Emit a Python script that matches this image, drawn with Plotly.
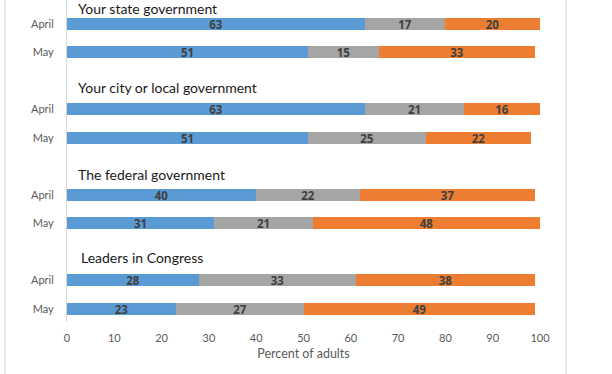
import plotly.graph_objects as go

groups = ["Your state government", "Your city or local government",
          "The federal government", "Leaders in Congress"]
months = ["April", "May"]
blue_vals = [63, 51, 63, 51, 40, 31, 28, 23]
gray_vals = [17, 15, 21, 25, 22, 21, 33, 27]
orange_vals = [20, 33, 16, 22, 37, 48, 38, 49]
x_ticks = [0, 10, 20, 30, 40, 50, 60, 70, 80, 90, 100]

# y positions: April at 3*i, May at 3*i+1
ypos = []
ylabels = []
for i in range(len(groups)):
    for j, m in enumerate(months):
        ypos.append(3 * i + j)
        ylabels.append(m)

FONT = "Lato"
LABEL_FONT = "Open Sans"
fig = go.Figure()
for vals, col in [(blue_vals, "#5B9BD5"), (gray_vals, "#A5A5A5"), (orange_vals, "#ED7D31")]:
    fig.add_trace(go.Bar(
        x=vals, y=ypos, orientation="h", width=0.42,
        marker=dict(color=col, line=dict(width=0)),
        text=[str(v) for v in vals], textposition="inside", textangle=0,
        insidetextanchor="middle", constraintext="none",
        textfont=dict(family=LABEL_FONT, size=11.5, color="#404040", weight="bold"),
        hoverinfo="skip", showlegend=False, cliponaxis=False,
    ))

title_offsets = [0.54, 0.78, 0.72, 0.82]
for i, g in enumerate(groups):
    fig.add_annotation(x=2.0 if i < 3 else 2.6, y=3 * i - title_offsets[i], xref="x", yref="y",
                       text=g, showarrow=False, xanchor="left", yanchor="middle",
                       font=dict(family=FONT, size=14, color="#1a1a1a"))

# outer frame lines
for xp in [-0.131, 1.055]:
    fig.add_shape(type="line", xref="paper", yref="paper", x0=xp, x1=xp, y0=-0.3, y1=1.2,
                  line=dict(color="#D9D9D9", width=1.2))

fig.update_layout(
    width=612, height=374,
    margin=dict(l=67, r=72, t=0, b=52),
    barmode="stack", bargap=0,
    plot_bgcolor="white", paper_bgcolor="white",
    font=dict(family=FONT, color="#595959"),
    xaxis=dict(range=[0, 100], tickvals=x_ticks, showgrid=False, zeroline=False,
               showline=False, ticks="", automargin=False, ticklabelstandoff=8,
               tickfont=dict(size=11, color="#595959"),
               title=dict(text="Percent of adults", font=dict(size=12.5, color="#595959"), standoff=6)),
    yaxis=dict(range=[10.46, -0.84], tickvals=ypos, ticktext=ylabels, showgrid=False,
               zeroline=False, showline=True, linecolor="#D9D9D9", linewidth=1,
               ticks="", ticklen=0, automargin=False, ticklabelstandoff=10,
               tickfont=dict(size=11, color="#595959")),
)
fig.write_html("out.html", config={"displayModeBar": False},
               post_script="document.body.style.margin='0';")
